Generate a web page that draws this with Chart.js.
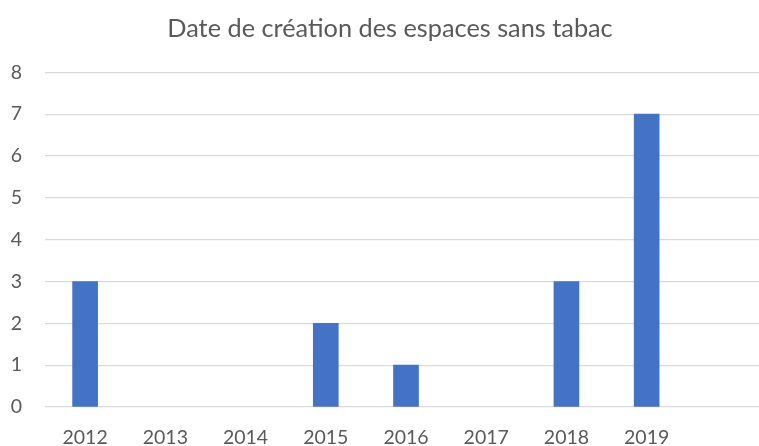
<!DOCTYPE html>
<html>
<head>
<meta charset="utf-8">
<script src="https://cdn.jsdelivr.net/npm/chart.js@4/dist/chart.umd.min.js"></script>
<style>
  html, body { margin: 0; padding: 0; background: #fff; overflow: hidden; width: 759px; height: 446px; }
  #wrap { width: 780px; height: 446px; }
</style>
</head>
<body>
<div id="wrap"><canvas id="c" width="780" height="446"></canvas></div>
<script>
const titleText = 'Date de création des espaces sans tabac';
const categories = ['2012', '2013', '2014', '2015', '2016', '2017', '2018', '2019', ''];
const values = [3, 0, 0, 2, 1, 0, 3, 7, null];
const yTicks = [0, 1, 2, 3, 4, 5, 6, 7, 8];

const textColor = '#595959';
const gridColor = '#D9D9D9';
const barColor = '#4472C4';

// Center the title over the whole chart area (Excel-style), not the padded box
const centerTitle = {
  id: 'centerTitle',
  afterLayout(chart) {
    const t = chart.titleBlock;
    if (t) { t.left = 0; t.right = chart.width; t.width = chart.width; }
  }
};

new Chart(document.getElementById('c'), {
  type: 'bar',
  data: {
    labels: categories,
    datasets: [{
      data: values,
      backgroundColor: (ctx) => (ctx.raw ? barColor : 'rgba(0,0,0,0)'),
      borderWidth: 0,
      barThickness: 25
    }]
  },
  plugins: [centerTitle],
  options: {
    responsive: false,
    animation: false,
    layout: { padding: { left: 0, right: 13, top: 0, bottom: 0 } },
    plugins: {
      legend: { display: false },
      tooltip: { enabled: false },
      title: {
        display: true,
        text: titleText,
        color: textColor,
        font: { family: 'Lato', size: 25.3, weight: 'normal' },
        padding: { top: 14, bottom: 28 }
      }
    },
    scales: {
      x: {
        grid: { display: false },
        border: { display: false },
        ticks: {
          color: textColor,
          font: { family: 'Lato', size: 19.5 },
          padding: 11,
          maxRotation: 0,
          autoSkip: false
        },
        afterFit: (s) => { s.height = 39; }
      },
      y: {
        min: 0,
        max: 8,
        afterBuildTicks: (s) => { s.ticks = yTicks.map(v => ({ value: v })); },
        grid: { color: gridColor, lineWidth: 1.3, drawTicks: false },
        border: { display: false },
        ticks: {
          color: textColor,
          font: { family: 'Lato', size: 19.5 },
          padding: 23
        },
        afterFit: (s) => { s.width = 45; }
      }
    }
  }
});
</script>
</body>
</html>
